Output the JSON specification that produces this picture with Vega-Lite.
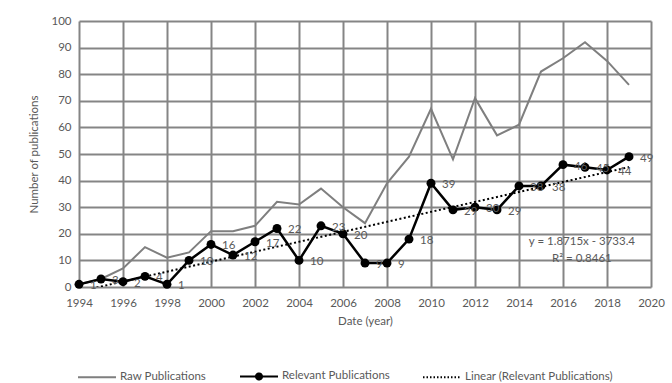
{
  "$schema": "https://vega.github.io/schema/vega-lite/v6.json",
  "width": 572,
  "height": 266,
  "autosize": {"type": "none"},
  "padding": {"left": 79, "top": 21, "right": 21, "bottom": 96},
  "background": "white",
  "config": {
    "font": "Lato",
    "view": {"stroke": null},
    "axis": {
      "labelFont": "Lato",
      "labelFontSize": 11.5,
      "labelColor": "#595959",
      "labelFlush": false,
      "labelOverlap": false,
      "titleFont": "Lato",
      "titleFontSize": 11.5,
      "titleFontWeight": "normal",
      "titleColor": "#595959",
      "grid": true,
      "gridColor": "#858585",
      "gridWidth": 2,
      "gridOpacity": 1,
      "domainOpacity": 0,
      "tickSize": 0,
      "tickOpacity": 0
    },
    "axisX": {"tickCount": 13, "labelPadding": 10, "titlePadding": 7, "format": "d"},
    "axisY": {"tickCount": 10, "labelPadding": 8, "titlePadding": 11}
  },
  "data": {
    "values": [
      {"year": 1994, "raw": 1, "relevant": 1},
      {"year": 1995, "raw": 3, "relevant": 3},
      {"year": 1996, "raw": 7, "relevant": 2},
      {"year": 1997, "raw": 15, "relevant": 4},
      {"year": 1998, "raw": 11, "relevant": 1},
      {"year": 1999, "raw": 13, "relevant": 10},
      {"year": 2000, "raw": 21, "relevant": 16},
      {"year": 2001, "raw": 21, "relevant": 12},
      {"year": 2002, "raw": 23, "relevant": 17},
      {"year": 2003, "raw": 32, "relevant": 22},
      {"year": 2004, "raw": 31, "relevant": 10},
      {"year": 2005, "raw": 37, "relevant": 23},
      {"year": 2006, "raw": 30, "relevant": 20},
      {"year": 2007, "raw": 24, "relevant": 9},
      {"year": 2008, "raw": 39, "relevant": 9},
      {"year": 2009, "raw": 49, "relevant": 18},
      {"year": 2010, "raw": 67, "relevant": 39},
      {"year": 2011, "raw": 48, "relevant": 29},
      {"year": 2012, "raw": 71, "relevant": 30},
      {"year": 2013, "raw": 57, "relevant": 29},
      {"year": 2014, "raw": 61, "relevant": 38},
      {"year": 2015, "raw": 81, "relevant": 38},
      {"year": 2016, "raw": 86, "relevant": 46},
      {"year": 2017, "raw": 92, "relevant": 45},
      {"year": 2018, "raw": 85, "relevant": 44},
      {"year": 2019, "raw": 76, "relevant": 49}
    ]
  },
  "layer": [
    {
      "mark": {"type": "line", "color": "#7f7f7f", "strokeWidth": 2},
      "encoding": {
        "x": {
          "field": "year",
          "type": "quantitative",
          "scale": {"domain": [1994, 2020], "nice": false, "zero": false},
          "title": "Date (year)"
        },
        "y": {
          "field": "raw",
          "type": "quantitative",
          "scale": {"domain": [0, 100], "nice": false},
          "title": "Number of publications"
        },
        "color": {
          "datum": "Raw Publications",
          "scale": {
            "domain": ["Raw Publications", "Relevant Publications", "Linear (Relevant Publications)"],
            "range": ["#7f7f7f", "#000000", "#000000"]
          },
          "legend": {
            "title": null,
            "orient": "none",
            "direction": "horizontal",
            "legendX": -2,
            "legendY": 335,
            "labelFont": "Lato",
            "labelFontSize": 11.5,
            "labelColor": "#595959",
            "labelOffset": 3,
            "columnPadding": 29,
            "symbolSize": 1444,
            "symbolType": "stroke",
            "symbolStrokeWidth": 2,
            "encode": {
              "symbols": {
                "update": {
                  "size": {"value": 1444},
                  "strokeWidth": {"value": 2},
                  "shape": {"signal": "datum.value === 'Relevant Publications' ? 'M-1,0H1M-0.16,0A0.16,0.16,0,1,1,0.16,0A0.16,0.16,0,1,1,-0.16,0Z' : 'stroke'"},
                  "fill": {"signal": "datum.value === 'Relevant Publications' ? '#000000' : 'transparent'"},
                  "strokeDash": {"signal": "datum.value === 'Linear (Relevant Publications)' ? [1.5, 2] : [1, 0]"}
                }
              }
            }
          }
        }
      }
    },
    {
      "transform": [
        {"regression": "relevant", "on": "year", "method": "linear", "extent": [1994, 2019]}
      ],
      "mark": {"type": "line", "strokeWidth": 2, "strokeDash": [2, 2.5], "clip": true},
      "encoding": {
        "x": {"field": "year", "type": "quantitative", "title": "Date (year)"},
        "y": {"field": "relevant", "type": "quantitative", "title": "Number of publications"},
        "color": {"datum": "Linear (Relevant Publications)"}
      }
    },
    {
      "mark": {"type": "line", "strokeWidth": 2.5, "point": {"filled": true, "size": 80, "opacity": 1}},
      "encoding": {
        "x": {"field": "year", "type": "quantitative", "title": "Date (year)"},
        "y": {"field": "relevant", "type": "quantitative", "title": "Number of publications"},
        "color": {"datum": "Relevant Publications"}
      }
    },
    {
      "mark": {"type": "text", "align": "left", "baseline": "middle", "dx": 11, "dy": 2, "fontSize": 11.5, "color": "#595959", "font": "Lato"},
      "encoding": {
        "x": {"field": "year", "type": "quantitative", "title": "Date (year)"},
        "y": {"field": "relevant", "type": "quantitative", "title": "Number of publications"},
        "text": {"field": "relevant", "type": "quantitative"}
      }
    },
    {
      "data": {"values": [{"line1": "y = 1.8715x - 3733.4", "line2": "R² = 0.8461"}]},
      "mark": {"type": "text", "align": "center", "baseline": "middle", "fontSize": 11.5, "color": "#595959", "font": "Lato"},
      "encoding": {
        "x": {"datum": 2016.86, "type": "quantitative", "title": "Date (year)"},
        "y": {"datum": 16.9, "type": "quantitative", "title": "Number of publications"},
        "text": {"field": "line1"}
      }
    },
    {
      "data": {"values": [{"line1": "y = 1.8715x - 3733.4", "line2": "R² = 0.8461"}]},
      "mark": {"type": "text", "align": "center", "baseline": "middle", "fontSize": 11.5, "color": "#595959", "font": "Lato"},
      "encoding": {
        "x": {"datum": 2016.86, "type": "quantitative", "title": "Date (year)"},
        "y": {"datum": 10.5, "type": "quantitative", "title": "Number of publications"},
        "text": {"field": "line2"}
      }
    }
  ]
}
